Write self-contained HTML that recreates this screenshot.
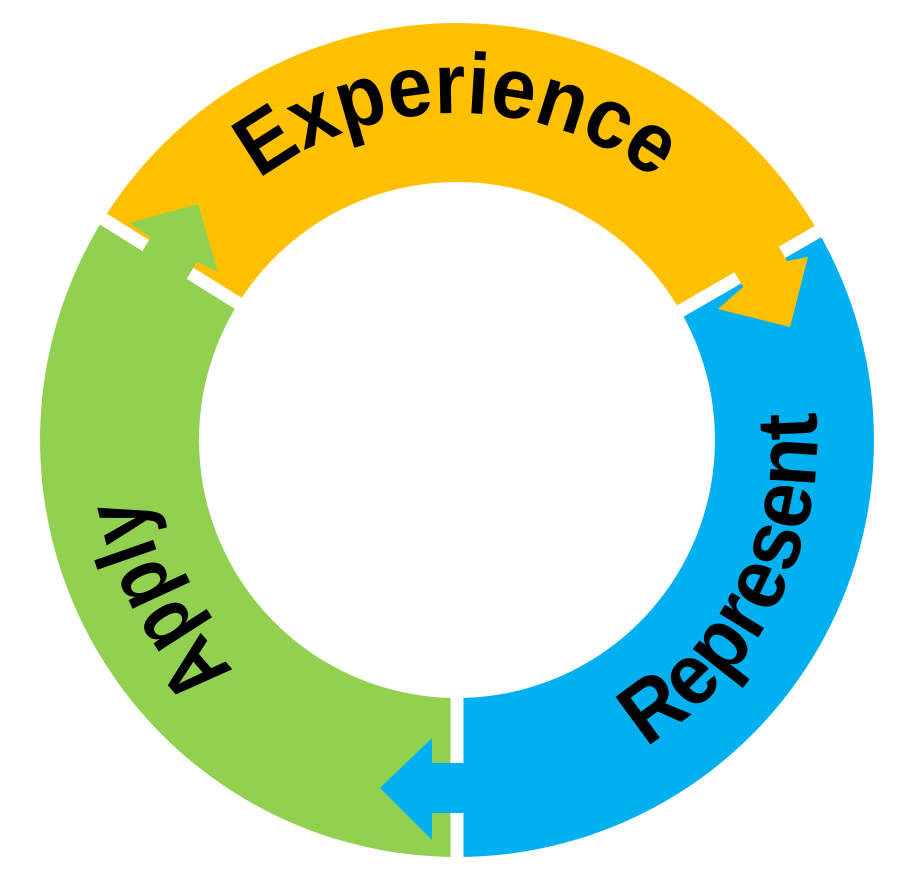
<!DOCTYPE html>
<html><head><meta charset="utf-8"><style>html,body{margin:0;padding:0;background:#fff}svg{display:block}</style></head>
<body>
<svg width="911" height="883" viewBox="0 0 911 883" xmlns="http://www.w3.org/2000/svg">
<defs>
<path id="pe" d="M130,440 A327,327 0 0 1 784,440"/>
<path id="pa" d="M609.6,726.9 A325,325 0 0 1 304.4,153.1"/>
<path id="pr" d="M293.6,760.8 A360,360 0 0 0 620.4,119.2"/>
</defs>
<path fill="#FFC000" d="M103.4,219 A417,417 0 0 1 818.1,231.5 L680.4,311 A258,258 0 0 0 238.2,303.3 Z"/>
<path fill="#00B0F0" d="M818.1,231.5 A417,417 0 0 1 457,857 L457,698 A258,258 0 0 0 680.4,311 Z"/>
<path fill="#92D050" d="M457,857 A417,417 0 0 1 103.4,219 L238.2,303.3 A258,258 0 0 0 457,698 Z"/>
<g stroke="#fff" stroke-width="13">
<line x1="457" y1="440" x2="84" y2="207"/>
<line x1="457" y1="440" x2="838" y2="220"/>
<line x1="457" y1="440" x2="457" y2="880"/>
</g>
<polygon fill="#FFC000" points="771,233 727,259 743,287 718,309 790,327 808,257 787,261"/>
<polygon fill="#92D050" points="130,271 151,237 129,223 198,204 218,272 197,262 176,296"/>
<polygon fill="#00B0F0" points="500,763 432,763 432,738 380,788 432,840 432,813 500,813"/>
<g font-family="Liberation Sans, sans-serif" font-weight="bold" font-size="86" fill="#000">
<text><textPath href="#pe" startOffset="50%" text-anchor="middle" textLength="425" lengthAdjust="spacingAndGlyphs">Experience</textPath></text>
<text><textPath href="#pa" startOffset="50%" text-anchor="middle" textLength="200" lengthAdjust="spacingAndGlyphs">Apply</textPath></text>
<text><textPath href="#pr" startOffset="50%" text-anchor="middle" textLength="395" lengthAdjust="spacingAndGlyphs">Represent</textPath></text>
</g>
</svg>
</body></html>
